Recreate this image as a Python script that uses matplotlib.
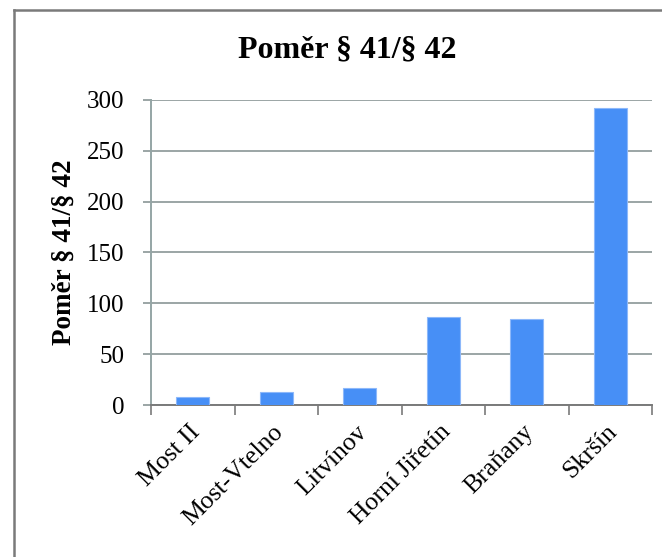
import matplotlib
matplotlib.use("Agg")
import matplotlib.pyplot as plt
from matplotlib.lines import Line2D
import matplotlib.transforms as mtransforms
import numpy as np

categories = ["Most II", "Most-Vtelno", "Litvínov", "Horní Jiřetín", "Braňany", "Skršín"]
values = [8, 13, 17, 87, 84.5, 292]
yticks = [0, 50, 100, 150, 200, 250, 300]
title = "Poměr § 41/§ 42"
ylabel = "Poměr § 41/§ 42"

plt.rcParams['font.family'] = ['Liberation Serif', 'DejaVu Serif']

W, H = 662, 557
fig = plt.figure(figsize=(W / 100, H / 100), dpi=100)
fig.patch.set_facecolor('white')

# outer border (left and top visible)
bc = '#7a7a7a'
fig.add_artist(Line2D([14 / W, 14 / W], [0, 1 - 10 / H], transform=fig.transFigure, color=bc, lw=1.8))
fig.add_artist(Line2D([14 / W, 1], [1 - 10 / H, 1 - 10 / H], transform=fig.transFigure, color=bc, lw=1.8))

ax = fig.add_axes([151 / W, 1 - 405 / H, (652 - 151) / W, (405 - 100) / H])
x = np.arange(len(categories))
ax.bar(x, values, width=0.4, color='#478FF6', edgecolor='#8DB8FA', linewidth=0.8, zorder=3)

ax.set_xlim(-0.5, len(categories) - 0.5)
ax.set_ylim(0, 300)
ax.set_yticks(yticks)
ax.set_yticklabels([str(v) for v in yticks], fontsize=18)
ax.yaxis.grid(True, color='#8a9696', linewidth=1.2, zorder=0)
ax.set_axisbelow(True)

ax.set_xticks(x)
ax.set_xticklabels(categories, rotation=45, ha='right', rotation_mode='anchor', fontsize=18.5)
ax.tick_params(axis='x', which='major', length=0, pad=10)
offset = mtransforms.ScaledTranslation(-4 / 100, -2 / 100, fig.dpi_scale_trans)
for lbl in ax.get_xticklabels():
    lbl.set_transform(lbl.get_transform() + offset)
ax.set_xticks(np.arange(-0.5, len(categories)), minor=True)
ax.tick_params(axis='x', which='minor', length=7, width=1.2, color='#7a7a7a', direction='out')
ax.tick_params(axis='y', which='major', length=6, width=1.2, color='#8a9696', pad=13)

for s in ['top', 'right']:
    ax.spines[s].set_visible(False)
ax.spines['left'].set_color('#95a5a5')
ax.spines['left'].set_linewidth(1.4)
ax.spines['bottom'].set_color('#7a7a7a')
ax.spines['bottom'].set_linewidth(1.4)

fig.text(347 / W, 1 - 50 / H, title, ha='center', va='center', fontsize=23, fontweight='bold')
fig.text(64 / W, 1 - 252 / H, ylabel, ha='center', va='center', rotation=90, fontsize=19.5, fontweight='bold')

fig.savefig('out.png', dpi=100, facecolor='white')
